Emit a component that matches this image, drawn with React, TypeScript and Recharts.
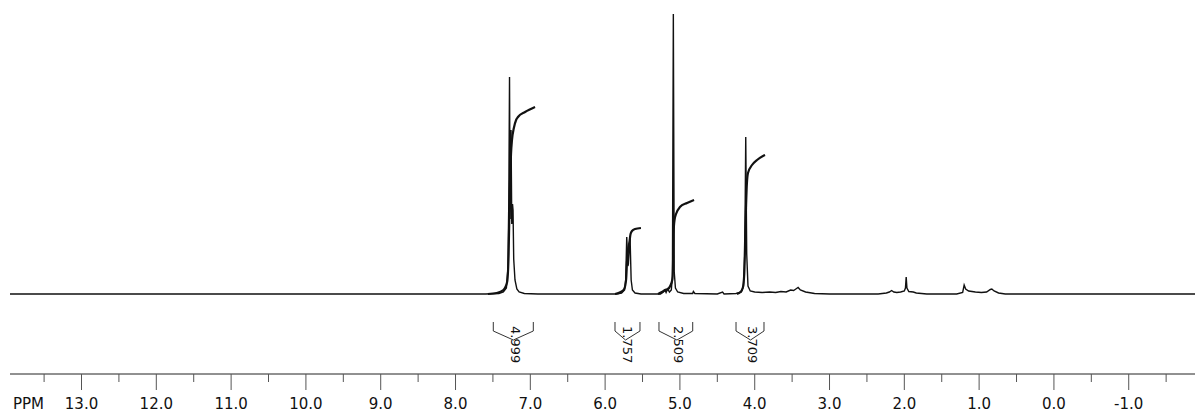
import React from 'react'
import { LineChart, Line, XAxis, YAxis, ReferenceDot } from 'recharts'

// chemical shift (ppm) / intensity pairs
const spectrum: [number, number][] = [
  [13.956, 0], [7.6, 0], [7.42, 0.5], [7.36, 2], [7.32, 6], [7.3, 25], [7.288, 90],
  [7.278, 217], [7.27, 75], [7.258, 164], [7.248, 70], [7.238, 90], [7.231, 84],
  [7.222, 35], [7.205, 14], [7.18, 5], [7.15, 2], [7.08, 0.5], [6.9, 0],
  [5.85, 0], [5.78, 1], [5.74, 4], [5.725, 14], [5.711, 57], [5.695, 28], [5.689, 30],
  [5.667, 58], [5.652, 14], [5.635, 4], [5.6, 1], [5.52, 0],
  [5.26, 0], [5.22, 2], [5.2, 4], [5.185, 1.5], [5.165, 5], [5.14, 2], [5.115, 4],
  [5.1, 18], [5.088, 280], [5.076, 22], [5.06, 6], [5.03, 2], [4.95, 0.5],
  [4.83, 0.5], [4.82, 2.5], [4.8, 0.5], [4.5, 0], [4.43, 2], [4.41, 0], [4.25, 0.5],
  [4.18, 2], [4.15, 8], [4.133, 40], [4.12, 157], [4.107, 40], [4.09, 8], [4.06, 3],
  [4.0, 2], [3.9, 1.5], [3.8, 2], [3.72, 1.5], [3.65, 2.5], [3.58, 2], [3.52, 4],
  [3.48, 3.5], [3.45, 5], [3.42, 6.5], [3.39, 4], [3.32, 2], [3.2, 0.5], [3.0, 0],
  [2.35, 0], [2.24, 1], [2.2, 2], [2.17, 3.5], [2.14, 2], [2.1, 1.5], [2.05, 2], [2.0, 3],
  [1.985, 6], [1.975, 17], [1.965, 6], [1.94, 2.5], [1.88, 2], [1.84, 1], [1.7, 0],
  [1.3, 0], [1.22, 1.5], [1.2, 9], [1.18, 5], [1.14, 3], [1.05, 2], [0.97, 1.5],
  [0.9, 2], [0.85, 4.5], [0.83, 5], [0.8, 3], [0.74, 1], [0.65, 0], [-1.886, 0],
]

// integral curves
const integral1: [number, number][] = [
  [7.567, 0], [7.45, 1], [7.36, 4], [7.31, 12], [7.29, 40], [7.275, 100], [7.258, 140],
  [7.245, 154], [7.22, 166], [7.19, 174], [7.165, 177], [7.07, 182], [6.937, 187],
]
const integral2: [number, number][] = [
  [5.868, 0], [5.79, 2], [5.745, 5], [5.72, 14], [5.705, 35], [5.69, 45], [5.675, 52],
  [5.66, 60], [5.641, 63], [5.6, 65], [5.521, 66],
]
const integral3: [number, number][] = [
  [5.293, 0], [5.24, 2], [5.2, 4], [5.16, 5], [5.13, 8], [5.1, 15], [5.092, 30],
  [5.086, 60], [5.07, 75], [5.052, 80], [5.0, 87], [4.905, 91], [4.811, 94],
]
const integral4: [number, number][] = [
  [4.237, 0], [4.19, 2], [4.16, 6], [4.14, 20], [4.123, 70], [4.105, 110], [4.09, 121],
  [4.036, 129], [3.969, 134], [3.89, 138], [3.862, 139],
]

const integralLabels = ['4.999', '1.757', '2.509', '3.709']
const integralFrom = [7.495, 5.868, 5.28, 4.25]
const integralTo = [6.96, 5.534, 4.829, 3.876]
const integralMid = [7.227, 5.727, 5.04, 4.056]

const majorTicks = [13, 12, 11, 10, 9, 8, 7, 6, 5, 4, 3, 2, 1, 0, -1]
const minorTicks = [13.5, 12.5, 11.5, 10.5, 9.5, 8.5, 7.5, 6.5, 5.5, 4.5, 3.5, 2.5, 1.5, 0.5, -0.5, -1.5]

const FONT = '"DejaVu Sans", Verdana, sans-serif'

const toPoints = (rows: [number, number][]) => rows.map(([ppm, v]) => ({ ppm, v }))

const PpmTick = (props: any) => {
  const { x, y, payload } = props
  const v = payload.value as number
  const major = Math.abs(v - Math.round(v)) < 1e-6
  return (
    <g>
      <line x1={x} x2={x} y1={y} y2={y + (major ? 16 : 8)} stroke="#555" strokeWidth={1} />
      {major && (
        <text x={x} y={y + 35} textAnchor="middle" fontSize={15} fontFamily={FONT} fill="#111">
          {v.toFixed(1)}
        </text>
      )}
    </g>
  )
}

const PpmLabel = () => (
  <text x={13} y={409} fontSize={15} fontFamily={FONT} fill="#111">
    PPM
  </text>
)

const IntegralText = (text: string) => (props: any) => {
  const { viewBox } = props
  const cx = viewBox.x + (viewBox.width || 0) / 2 + 2
  const cy = viewBox.y + (viewBox.height || 0) / 2
  return (
    <text
      x={cx}
      y={cy}
      transform={`rotate(90, ${cx}, ${cy})`}
      fontSize={13}
      fontFamily={FONT}
      fill="#111"
      dominantBaseline="central"
    >
      {text}
    </text>
  )
}

export default function App() {
  const ticks = [...majorTicks, ...minorTicks].sort((a, b) => b - a)
  const brackets = integralLabels.map((label, i) => ({
    label,
    mid: integralMid[i],
    pts: [
      { ppm: integralFrom[i], v: -28 },
      { ppm: integralFrom[i], v: -37 },
      { ppm: integralMid[i], v: -46 },
      { ppm: integralTo[i], v: -37 },
      { ppm: integralTo[i], v: -28 },
    ],
  }))

  return (
    <div style={{ position: 'absolute', left: 0, top: 0, width: 1195, height: 414, background: '#fff' }}>
      <LineChart width={1195} height={414} margin={{ top: 13, right: 0, bottom: 8, left: 10 }}>
        <XAxis
          dataKey="ppm"
          type="number"
          domain={[-1.886, 13.956]}
          reversed
          allowDataOverflow
          ticks={ticks}
          interval={0}
          tickSize={0}
          tickMargin={0}
          height={32}
          tick={<PpmTick />}
          stroke="#222"
          axisLine={{ stroke: '#222', strokeWidth: 1 }}
          label={{ content: PpmLabel }}
        />
        <YAxis hide type="number" domain={[-80, 281]} allowDataOverflow />
        <Line
          data={toPoints(spectrum)}
          dataKey="v"
          type="linear"
          stroke="#111"
          strokeWidth={1.4}
          dot={false}
          isAnimationActive={false}
        />
        {[integral1, integral2, integral3, integral4].map((rows, i) => (
          <Line
            key={`int-${i}`}
            data={toPoints(rows)}
            dataKey="v"
            type="monotone"
            stroke="#111"
            strokeWidth={2.2}
            dot={false}
            isAnimationActive={false}
          />
        ))}
        {brackets.map((b, i) => (
          <Line
            key={`br-${i}`}
            data={b.pts}
            dataKey="v"
            type="linear"
            stroke="#333"
            strokeWidth={1}
            dot={false}
            isAnimationActive={false}
          />
        ))}
        {brackets.map((b, i) => (
          <ReferenceDot
            key={`lb-${i}`}
            x={b.mid}
            y={-32}
            r={0}
            fill="none"
            stroke="none"
            ifOverflow="visible"
            label={{ content: IntegralText(b.label) }}
          />
        ))}
      </LineChart>
    </div>
  )
}
